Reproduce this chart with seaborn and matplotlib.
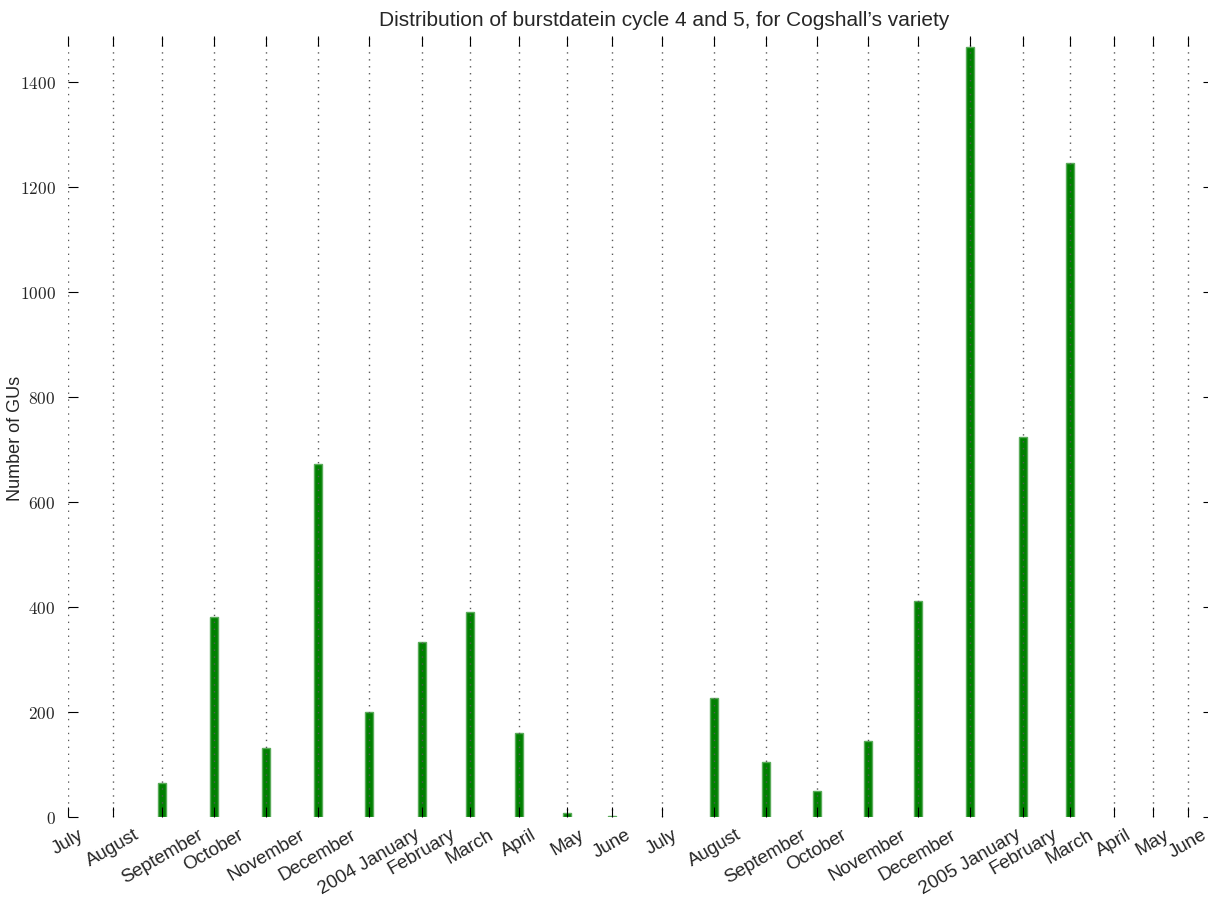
import numpy as np
import pandas as pd
import matplotlib
matplotlib.use("Agg")
import matplotlib.pyplot as plt
import seaborn as sns
from matplotlib.ticker import FuncFormatter

# Month labels (July 2003 .. June 2005)
months = ["July", "August", "September", "October", "November", "December",
          "2004 January", "February", "March", "April", "May", "June",
          "July", "August", "September", "October", "November", "December",
          "2005 January", "February", "March", "April", "May", "June"]
# Position of each month on the time axis (days from the start of July 2003)
month_pos = [0, 28, 59, 91, 124, 156, 188, 221, 251, 282, 312, 340,
             371, 404, 436, 468, 500, 531, 564, 597, 626, 654, 678, 700]
# Number of growth units bursting in each month
gu_counts = [0, 0, 65, 381, 131, 672, 200, 333, 390, 160, 7, 2,
             0, 227, 105, 50, 145, 411, 1467, 724, 1246, 0, 0, 0]
y_ticks = [0, 200, 400, 600, 800, 1000, 1200, 1400]

sns.set_style("white")
plt.rcParams["font.family"] = ["Liberation Sans", "DejaVu Sans"]
plt.rcParams["mathtext.fontset"] = "cm"

W, H = 1208, 903
x_left, x_right, y_top, y_bot = 68, 1213, 37, 818
fig = plt.figure(figsize=(W / 100, H / 100), dpi=100)
ax = fig.add_axes([x_left / W, 1 - y_bot / H, (x_right - x_left) / W,
                   (y_bot - y_top) / H])

df = pd.DataFrame({"pos": month_pos, "count": gu_counts})
df = df[df["count"] > 0]
bar_w = 5.0
native = np.diff(np.unique(df["pos"])).min()
sns.barplot(data=df, x="pos", y="count", native_scale=True,
            width=bar_w / native, color="green", saturation=1,
            edgecolor="#5aab5a", linewidth=1, errorbar=None, ax=ax)

ax.set_xlim(0, (x_right - x_left) / 1.6)
ax.set_ylim(0, 1487)
ax.set_xticks(month_pos)
ax.set_xticklabels(months, rotation=30, ha="center", fontsize=13.5)
ax.set_yticks(y_ticks)
ax.yaxis.set_major_formatter(FuncFormatter(lambda v, p: f"${int(v)}$"))

for s in ax.spines.values():
    s.set_visible(False)
ax.tick_params(axis="both", direction="in", top=True, right=True,
               bottom=True, left=True, length=7, width=0.8, color="black",
               pad=6)
ax.tick_params(axis="y", labelsize=12.5, pad=9)

ax.set_axisbelow(False)
ax.xaxis.grid(True, linestyle=(0, (1, 4)), color="0.35", linewidth=1.0)
ax.yaxis.grid(False)

ax.set_xlabel("")
ax.set_ylabel("Number of GUs", fontsize=13)
ax.yaxis.set_label_coords((24 - x_left) / (x_right - x_left),
                          (y_bot - 438) / (y_bot - y_top))
ax.set_title("Distribution of burstdatein cycle 4 and 5, for Cogshall\u2019s variety",
             fontsize=15, x=(664 - x_left) / (x_right - x_left), pad=8)

fig.savefig("out.png", dpi=100)
